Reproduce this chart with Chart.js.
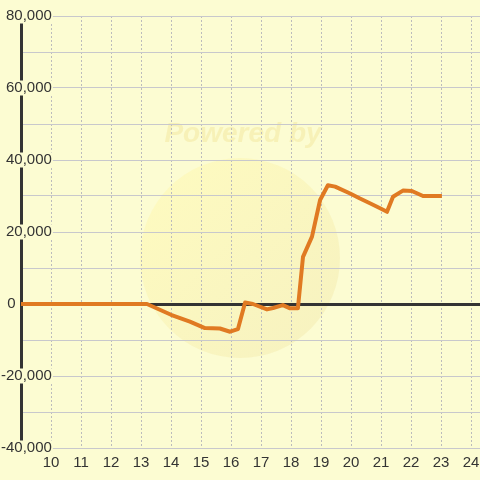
<!DOCTYPE html>
<html>
<head>
<meta charset="utf-8">
<script src="https://cdn.jsdelivr.net/npm/chart.js@4"></script>
<style>
  html, body { margin: 0; padding: 0; background: #fcfcd2; }
  #wrap { width: 480px; height: 480px; }
</style>
</head>
<body>
<div id="wrap"><canvas id="chart" width="480" height="480"></canvas></div>
<script>
// values
var hours = [9, 13.2, 14.0, 14.63, 15.13, 15.63, 15.97, 16.23, 16.47, 16.73, 17.2, 17.4, 17.73, 17.97, 18.23,
             18.4, 18.7, 18.97, 19.23, 19.47, 19.97, 20.3, 20.63, 20.97, 21.2, 21.4, 21.73, 22.03, 22.4, 23.03]
var balance = [0, 0, -3000, -4900, -6700, -6800, -7700, -7000, 400, 0, -1500, -1100, -300, -1200, -1200,
               13100, 18700, 28900, 33000, 32600, 30700, 29300, 28000, 26600, 25600, 29800, 31500, 31400, 30000, 30000]
var xTicks = [10, 11, 12, 13, 14, 15, 16, 17, 18, 19, 20, 21, 22, 23, 24]
var yMin = -40000, yMax = 80000

var bg = '#fcfcd2'
var ink = '#333'

// faint watermark under the grid
var watermark = {
    id: 'watermark',
    beforeDraw(chart) {
        var ctx = chart.ctx
        ctx.save()
        var g = ctx.createLinearGradient(170, 190, 320, 340)
        g.addColorStop(0, 'rgba(255,245,160,0.35)')
        g.addColorStop(1, 'rgba(238,225,160,0.35)')
        ctx.fillStyle = g
        ctx.beginPath()
        ctx.arc(240, 258, 100, 0, Math.PI * 2)
        ctx.fill()
        ctx.font = 'italic bold 28px "Liberation Sans", Arial, sans-serif'
        ctx.fillStyle = 'rgba(242,228,150,0.45)'
        ctx.textAlign = 'center'
        ctx.textBaseline = 'middle'
        ctx.fillText('Powered by', 243, 134)
        ctx.restore()
    }
}

new Chart(document.getElementById('chart'), {
    type: 'line',
    data: {
        datasets: [{
            data: hours.map((h, i) => ({ x: h, y: balance[i] })),
            borderColor: '#e07a22',
            borderWidth: 4,
            pointRadius: 0,
            tension: 0,
            borderJoinStyle: 'round',
            fill: false
        }]
    },
    options: {
        responsive: false,
        animation: false,
        layout: { padding: { top: 16, bottom: 2, left: 0, right: 0 } },
        plugins: { legend: { display: false }, tooltip: { enabled: false } },
        scales: {
            x: {
                type: 'linear',
                min: 9,
                max: 24.3,
                afterBuildTicks: s => { s.ticks = xTicks.map(v => ({ value: v })) },
                afterFit: s => { s.paddingLeft = 0; s.paddingRight = 0 },
                grid: { color: '#bcbcbc', lineWidth: 1, drawTicks: false },
                border: { display: false, dash: [2, 2] },
                ticks: {
                    padding: 6,
                    color: ink,
                    font: { family: '"Liberation Sans", Arial, sans-serif', size: 15 }
                }
            },
            y: {
                min: yMin,
                max: yMax,
                afterFit: s => { s.width = 21; s.paddingTop = 0; s.paddingBottom = 0 },
                grid: {
                    drawTicks: false,
                    color: c => c.tick.value === 0 ? ink : '#c8c8cc',
                    lineWidth: c => c.tick.value === 0 ? 3 : 1
                },
                border: { display: true, color: ink, width: 3 },
                ticks: {
                    stepSize: 10000,
                    mirror: true,
                    crossAlign: 'far',
                    padding: -20,
                    z: 1,
                    color: ink,
                    font: { family: '"Liberation Sans", Arial, sans-serif', size: 15, lineHeight: 1 },
                    showLabelBackdrop: c => c.tick.value % 20000 === 0 && c.tick.value !== 0,
                    backdropColor: bg,
                    backdropPadding: { top: 0, bottom: 0, left: 1, right: 1 },
                    callback: v => {
                        if (v % 20000 !== 0) return ''
                        if (v === 0) return '0        \u2009'
                        return v.toLocaleString('en-US')
                    }
                }
            }
        }
    },
    plugins: [watermark]
})
</script>
</body>
</html>
